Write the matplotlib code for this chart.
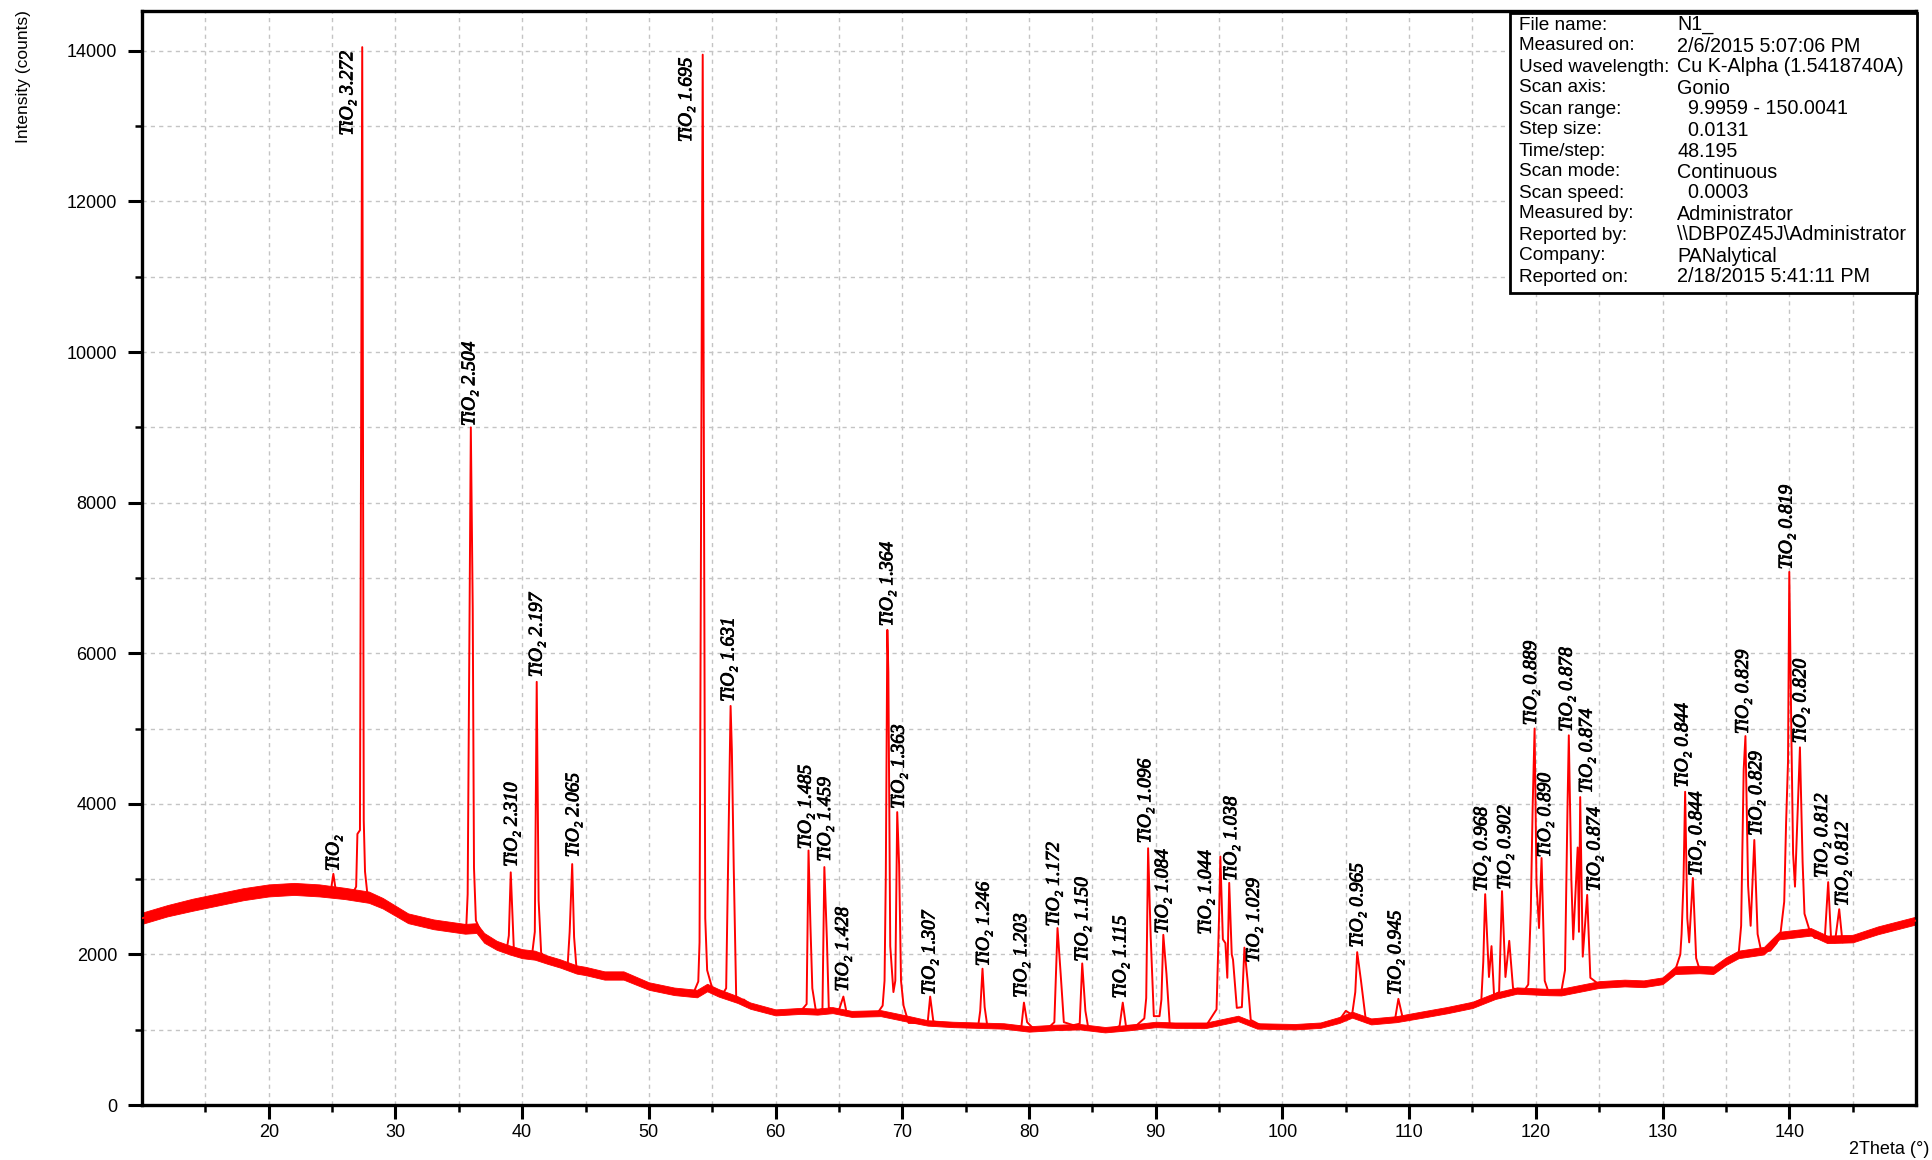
import matplotlib
matplotlib.use("Agg")
import matplotlib.pyplot as plt
import matplotlib.patheffects as pe
from matplotlib.patches import Rectangle
from matplotlib.ticker import FixedLocator, MultipleLocator

plt.rcParams['font.family'] = ['Liberation Sans', 'DejaVu Sans']

# ---- measured trace (2Theta in degrees, intensity in counts) ----
trace_x = [10.0, 12.0, 13.5, 15.0, 17.0, 19.0, 20.0, 22.0, 24.0, 24.9, 25.1, 25.3, 26.6, 26.9, 27.0,
           27.2, 27.38, 27.5, 27.6, 27.8, 29.0, 30.0, 31.0, 32.0, 33.0, 34.0, 35.0, 35.6, 35.7, 35.95,
           36.1, 36.2, 36.35, 37.0, 38.0, 38.8, 38.95, 39.1, 39.2, 39.35, 40.0, 40.8, 41.0, 41.15, 41.3,
           41.5, 42.0, 43.0, 43.6, 43.75, 43.95, 44.1, 44.3, 45.0, 46.5, 48.0, 50.0, 52.0, 53.5, 53.9,
           54.0, 54.25, 54.45, 54.6, 55.0, 55.8, 56.1, 56.45, 56.55, 56.7, 56.9, 57.5, 58.0, 60.0, 62.0,
           62.45, 62.6, 62.75, 62.9, 63.2, 63.7, 63.85, 64.05, 64.2, 65.0, 65.35, 65.6, 66.5, 68.0, 68.45,
           68.6, 68.7, 68.82, 68.9, 69.05, 69.3, 69.45, 69.6, 69.75, 69.9, 70.1, 70.5, 72.0, 72.2, 72.45,
           74.0, 76.0, 76.15, 76.33, 76.5, 76.7, 78.0, 79.4, 79.6, 79.85, 80.5, 81.5, 82.0, 82.25, 82.5,
           82.75, 83.5, 84.0, 84.2, 84.45, 84.7, 86.5, 87.15, 87.4, 87.65, 88.5, 89.1, 89.25, 89.4, 89.6,
           89.85, 90.3, 90.45, 90.6, 90.85, 91.1, 92.0, 94.0, 94.8, 95.0, 95.1, 95.3, 95.5, 95.65, 95.8,
           96.0, 96.1, 96.4, 96.8, 97.0, 97.25, 97.5, 98.5, 101.0, 103.0, 104.5, 105.0, 105.5, 105.75, 105.9,
           106.2, 106.6, 108.0, 108.9, 109.15, 109.5, 110.0, 112.0, 114.0, 115.0, 115.7, 115.85, 116.0, 116.3, 116.5,
           116.7, 117.1, 117.33, 117.6, 117.9, 118.2, 119.0, 119.4, 119.6, 119.75, 119.9, 120.05, 120.25, 120.45, 120.7,
           121.0, 122.0, 122.3, 122.5, 122.6, 122.8, 122.95, 123.3, 123.4, 123.5, 123.7, 124.05, 124.3, 125.0, 127.0,
           128.2, 130.0, 131.0, 131.4, 131.5, 131.65, 131.78, 131.95, 132.1, 132.39, 132.65, 132.9, 134.0, 135.0, 136.0,
           136.2, 136.4, 136.54, 136.75, 136.95, 137.24, 137.5, 137.8, 138.5, 139.0, 139.3, 139.6, 139.75, 139.9, 140.0,
           140.15, 140.3, 140.45, 140.84, 141.05, 141.2, 141.6, 142.0, 142.8, 143.07, 143.3, 143.6, 143.94, 144.2, 145.0,
           147.0, 150.0]
trace_counts = [2480, 2580, 2650, 2700, 2780, 2840, 2860, 2880, 2860, 2840, 3070, 2840, 2800, 2900, 3600,
                3650, 14050, 3780, 3100, 2780, 2680, 2580, 2480, 2430, 2400, 2360, 2340, 2400, 2800, 9000,
                6600, 3150, 2450, 2210, 2120, 2080, 2250, 3090, 2670, 2050, 2020, 2020, 2300, 5620, 2720,
                2020, 1930, 1880, 1880, 2300, 3200, 2230, 1790, 1790, 1720, 1730, 1580, 1510, 1480, 1640,
                2160, 13950, 2480, 1790, 1550, 1470, 1550, 5300, 4720, 3140, 1370, 1400, 1320, 1230, 1250,
                1340, 3380, 2390, 1550, 1230, 1280, 3160, 2200, 1290, 1260, 1440, 1230, 1200, 1210, 1320,
                1650, 3050, 6310, 5750, 2110, 1500, 1650, 3890, 3190, 1650, 1320, 1090, 1090, 1440, 1110,
                1060, 1060, 1250, 1810, 1300, 1060, 1040, 1040, 1360, 1100, 990, 1020, 1100, 2350, 1740,
                1100, 1060, 1080, 1880, 1250, 1000, 1000, 1050, 1360, 1050, 1060, 1150, 1420, 3410, 2250,
                1180, 1180, 1400, 2260, 1740, 1080, 1040, 1060, 1270, 2500, 3300, 2200, 2150, 1690, 2950,
                2000, 1930, 1290, 1300, 2090, 1650, 1130, 1040, 1040, 1060, 1130, 1250, 1200, 1500, 2030,
                1650, 1100, 1110, 1150, 1410, 1150, 1180, 1240, 1300, 1340, 1400, 1900, 2800, 1700, 2110,
                1460, 1500, 2840, 1700, 2180, 1550, 1500, 1600, 2580, 3980, 5000, 2950, 2350, 3280, 1650,
                1500, 1500, 1790, 3980, 4910, 3000, 2200, 3420, 2300, 4090, 1970, 2790, 1690, 1600, 1620,
                1600, 1650, 1790, 2000, 2270, 2960, 4160, 2480, 2160, 3015, 1950, 1810, 1790, 1920, 2000,
                2380, 4450, 4900, 2910, 2380, 3520, 2270, 2030, 2050, 2150, 2270, 2700, 3760, 4560, 7080,
                5100, 3340, 2900, 4750, 3230, 2540, 2320, 2220, 2210, 2960, 2200, 2160, 2600, 2160, 2210,
                2320, 2450]

# ---- background level and half-height of the noise band ----
bg_x = [10, 12, 14, 16, 18, 20, 22, 24, 26, 27.9, 29, 31, 33, 35.5, 36.4, 37, 38, 39, 40, 41,
        42, 43, 44.3, 45, 46.5, 48, 50, 52, 53.8, 54.6, 55.5, 57, 58, 60, 62, 63.3, 64.5, 66, 68.3, 70.3,
        72, 74, 76, 78, 80, 82, 84, 86, 88, 90, 91.5, 94, 96.5, 98, 101, 103, 104.5, 105.5, 107, 109,
        111, 113, 115, 116.8, 118.5, 121, 122, 125, 127, 128.5, 130, 131, 132.9, 134, 135, 136, 138, 139.2, 141.7, 143,
        145, 147, 150]
bg_counts = [2480, 2580, 2660, 2730, 2800, 2850, 2870, 2850, 2810, 2760, 2680, 2480, 2400, 2340, 2350, 2220, 2120, 2060, 2010, 1990,
             1930, 1880, 1800, 1780, 1720, 1720, 1580, 1510, 1480, 1560, 1490, 1400, 1320, 1230, 1250, 1240, 1260, 1210, 1220, 1150,
             1090, 1070, 1060, 1050, 1010, 1030, 1040, 1000, 1030, 1070, 1060, 1060, 1150, 1050, 1040, 1060, 1130, 1200, 1110, 1140,
             1200, 1260, 1330, 1450, 1520, 1500, 1500, 1600, 1620, 1610, 1650, 1790, 1800, 1790, 1910, 2000, 2050, 2250, 2300, 2200,
             2210, 2320, 2450]
bg_noise = [75, 75, 80, 80, 80, 80, 80, 80, 75, 75, 70, 65, 65, 65, 65, 65, 60, 60, 60, 60,
            55, 55, 55, 55, 55, 55, 50, 50, 50, 50, 50, 45, 42, 40, 40, 40, 40, 40, 40, 40,
            36, 36, 36, 36, 36, 36, 36, 36, 36, 36, 36, 36, 36, 36, 36, 36, 40, 40, 40, 40,
            42, 42, 42, 42, 42, 42, 45, 45, 45, 45, 45, 50, 50, 50, 50, 50, 50, 50, 50, 50,
            50, 52, 52]

# ---- peak annotations ----
label_text = ["TiO\u2082", "TiO\u2082 3.272", "TiO\u2082 2.504", "TiO\u2082 2.310", "TiO\u2082 2.197",
              "TiO\u2082 2.065", "TiO\u2082 1.695", "TiO\u2082 1.631", "TiO\u2082 1.485", "TiO\u2082 1.459",
              "TiO\u2082 1.428", "TiO\u2082 1.364", "TiO\u2082 1.363", "TiO\u2082 1.307", "TiO\u2082 1.246",
              "TiO\u2082 1.203", "TiO\u2082 1.172", "TiO\u2082 1.150", "TiO\u2082 1.115", "TiO\u2082 1.096",
              "TiO\u2082 1.084", "TiO\u2082 1.044", "TiO\u2082 1.038", "TiO\u2082 1.029", "TiO\u2082 0.965",
              "TiO\u2082 0.945", "TiO\u2082 0.968", "TiO\u2082 0.902", "TiO\u2082 0.889", "TiO\u2082 0.890",
              "TiO\u2082 0.878", "TiO\u2082 0.874", "TiO\u2082 0.874", "TiO\u2082 0.844", "TiO\u2082 0.844",
              "TiO\u2082 0.829", "TiO\u2082 0.829", "TiO\u2082 0.819", "TiO\u2082 0.820", "TiO\u2082 0.812",
              "TiO\u2082 0.812"]
label_x = [25.15, 26.24, 35.87, 39.21, 41.18, 44.08, 52.98, 56.32, 62.41, 63.94,
           65.35, 68.85, 69.76, 72.18, 76.46, 79.42, 81.99, 84.24, 87.25, 89.21,
           90.58, 93.98, 95.99, 97.78, 105.95, 108.95, 115.75, 117.6, 119.65, 120.76,
           122.47, 124.05, 124.66, 131.6, 132.7, 136.38, 137.43, 139.82, 140.92, 142.62,
           144.25]
label_y = [3105, 12875, 9016, 3162, 5681, 3288, 12788, 5354, 3396, 3232,
           1506, 6357, 3932, 1460, 1842, 1423, 2369, 1903, 1413, 3475,
           2276, 2262, 2976, 1889, 2090, 1460, 2836, 2859, 5042, 3288,
           4958, 4142, 2836, 4216, 3042, 4925, 3575, 7113, 4803, 3015,
           2641]

# ---- measurement info box ----
info_keys = ["File name:", "Measured on:", "Used wavelength:", "Scan axis:", "Scan range:",
             "Step size:", "Time/step:", "Scan mode:", "Scan speed:", "Measured by:",
             "Reported by:", "Company:", "Reported on:"]
info_values = ["N1_", "2/6/2015 5:07:06 PM", "Cu K-Alpha (1.5418740A)", "Gonio",
               "  9.9959 - 150.0041", "  0.0131", "48.195", "Continuous", "  0.0003",
               "Administrator", "\\\\DBP0Z45J\\Administrator", "PANalytical", "2/18/2015 5:41:11 PM"]

W, H = 1932, 1160
fig = plt.figure(figsize=(W / 100, H / 100), dpi=100)
ax = fig.add_axes([142 / W, 1 - 1105 / H, (1916 - 142) / W, (1105 - 11) / H])
ax.set_xlim(10, 150)
ax.set_ylim(0, 14530)

red = '#ff0000'
band_lo = [c - n for c, n in zip(bg_counts, bg_noise)]
band_hi = [c + n for c, n in zip(bg_counts, bg_noise)]
ax.fill_between(bg_x, band_lo, band_hi, color=red, lw=0.6, zorder=2)
ax.plot(trace_x, trace_counts, color=red, lw=1.4, zorder=3)

for t, x, y in zip(label_text, label_x, label_y):
    ax.text(x, y, t, rotation=90, ha='center', va='bottom', fontsize=14,
            family=['Liberation Serif', 'DejaVu Serif'], style='italic', color='black', zorder=4,
            path_effects=[pe.withStroke(linewidth=0.6, foreground='black')])

ax.xaxis.set_major_locator(FixedLocator(list(range(20, 141, 10))))
ax.xaxis.set_minor_locator(FixedLocator(list(range(15, 150, 10))))
ax.yaxis.set_major_locator(MultipleLocator(2000))
ax.yaxis.set_minor_locator(MultipleLocator(1000))
ax.grid(which='both', color='#c4c4c4', ls=(0, (3, 3)), lw=1.0, zorder=0)
ax.set_axisbelow(True)
ax.tick_params(which='major', direction='out', length=10, width=2.2, labelsize=13,
               top=False, right=False)
ax.tick_params(which='minor', direction='out', length=5, width=1.8, top=False, right=False)
ax.tick_params(axis='x', which='major', pad=4)
ax.tick_params(axis='y', which='major', pad=8)
for s in ax.spines.values():
    s.set_linewidth(2.4)
    s.set_color('black')

fig.text(24 / W, 1 - 10 / H, "Intensity (counts)", rotation=90, ha='center', va='top', fontsize=12.5)
fig.text(1929 / W, 1 - 1150 / H, "2Theta (\u00b0)", ha='right', va='center', fontsize=13)

# info box
bx0, by0, bx1, by1 = 1510, 13, 1917, 293
fig.add_artist(Rectangle((bx0 / W, 1 - by1 / H), (bx1 - bx0) / W, (by1 - by0) / H,
                         transform=fig.transFigure, facecolor='white', edgecolor='black',
                         lw=2.0, zorder=5))
for i, (k, v) in enumerate(zip(info_keys, info_values)):
    yy = 1 - (25 + 21 * i) / H
    fig.text(1519 / W, yy, k, ha='left', va='center', fontsize=13.7, zorder=6)
    fig.text(1677 / W, yy, v, ha='left', va='center', fontsize=14.2, zorder=6)

fig.savefig("out.png", dpi=100)
